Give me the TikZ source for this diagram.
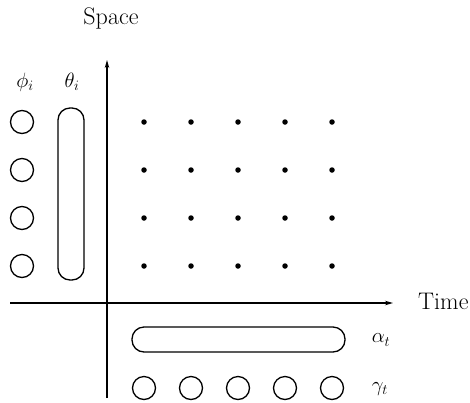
\documentclass[tikz,border=0pt]{standalone}
\usetikzlibrary{arrows.meta}
\begin{document}
\begin{tikzpicture}[x=1pt,y=-1pt,
  ring/.style={circle,draw,line width=1.3pt,minimum size=23pt,inner sep=0pt},
  pill/.style={draw,line width=1.3pt,rounded corners=12pt,inner sep=0pt},
  dot/.style={circle,fill,inner sep=0pt,minimum size=5.5pt},
  axis/.style={line width=1.4pt,-{Stealth[length=8pt,width=4.5pt]}},
  lbl/.style={inner sep=0pt,font=\fontsize{24}{28}\selectfont},
  sym/.style={inner sep=0pt,font=\fontsize{20.74}{24}\selectfont}]
\useasboundingbox (0,0) rectangle (470,402);

% axes
\coordinate (xl) at (10,303);
\coordinate (xr) at (393,303);
\coordinate (yb) at (107,398);
\coordinate (yt) at (107,60);
\draw[axis] (xl) -- (xr);
\draw[axis] (yb) -- (yt);
\node[lbl,anchor=base] (space) at (111,24) {Space};
\node[lbl,anchor=base west] (time) at (418,309) {Time};

% space-time grid of observations
\foreach \c/\x in {1/144,2/191,3/238,4/285,5/332}
  \foreach \r/\y in {1/122,2/170,3/218,4/266}
    \node[dot] (d\r\c) at (\x,\y) {};

% spatial effects
\foreach \r/\y in {1/122,2/170,3/218,4/266}
  \node[ring] (phi\r) at (22,\y) {};
\node[pill,minimum width=26pt,minimum height=172pt] (theta) at (71,194) {};
\node[sym] (philbl) at (25,82) {$\phi_i$};
\node[sym] (thetalbl) at (72,82) {$\theta_i$};

% temporal effects
\node[pill,minimum width=213pt,minimum height=25pt] (alpha) at (238.5,339.5) {};
\foreach \c/\x in {1/144,2/191,3/238,4/285,5/332}
  \node[ring] (gam\c) at (\x,388) {};
\node[sym] (alphalbl) at (381,340) {$\alpha_t$};
\node[sym] (gammalbl) at (380,389) {$\gamma_t$};
\end{tikzpicture}
\end{document}
